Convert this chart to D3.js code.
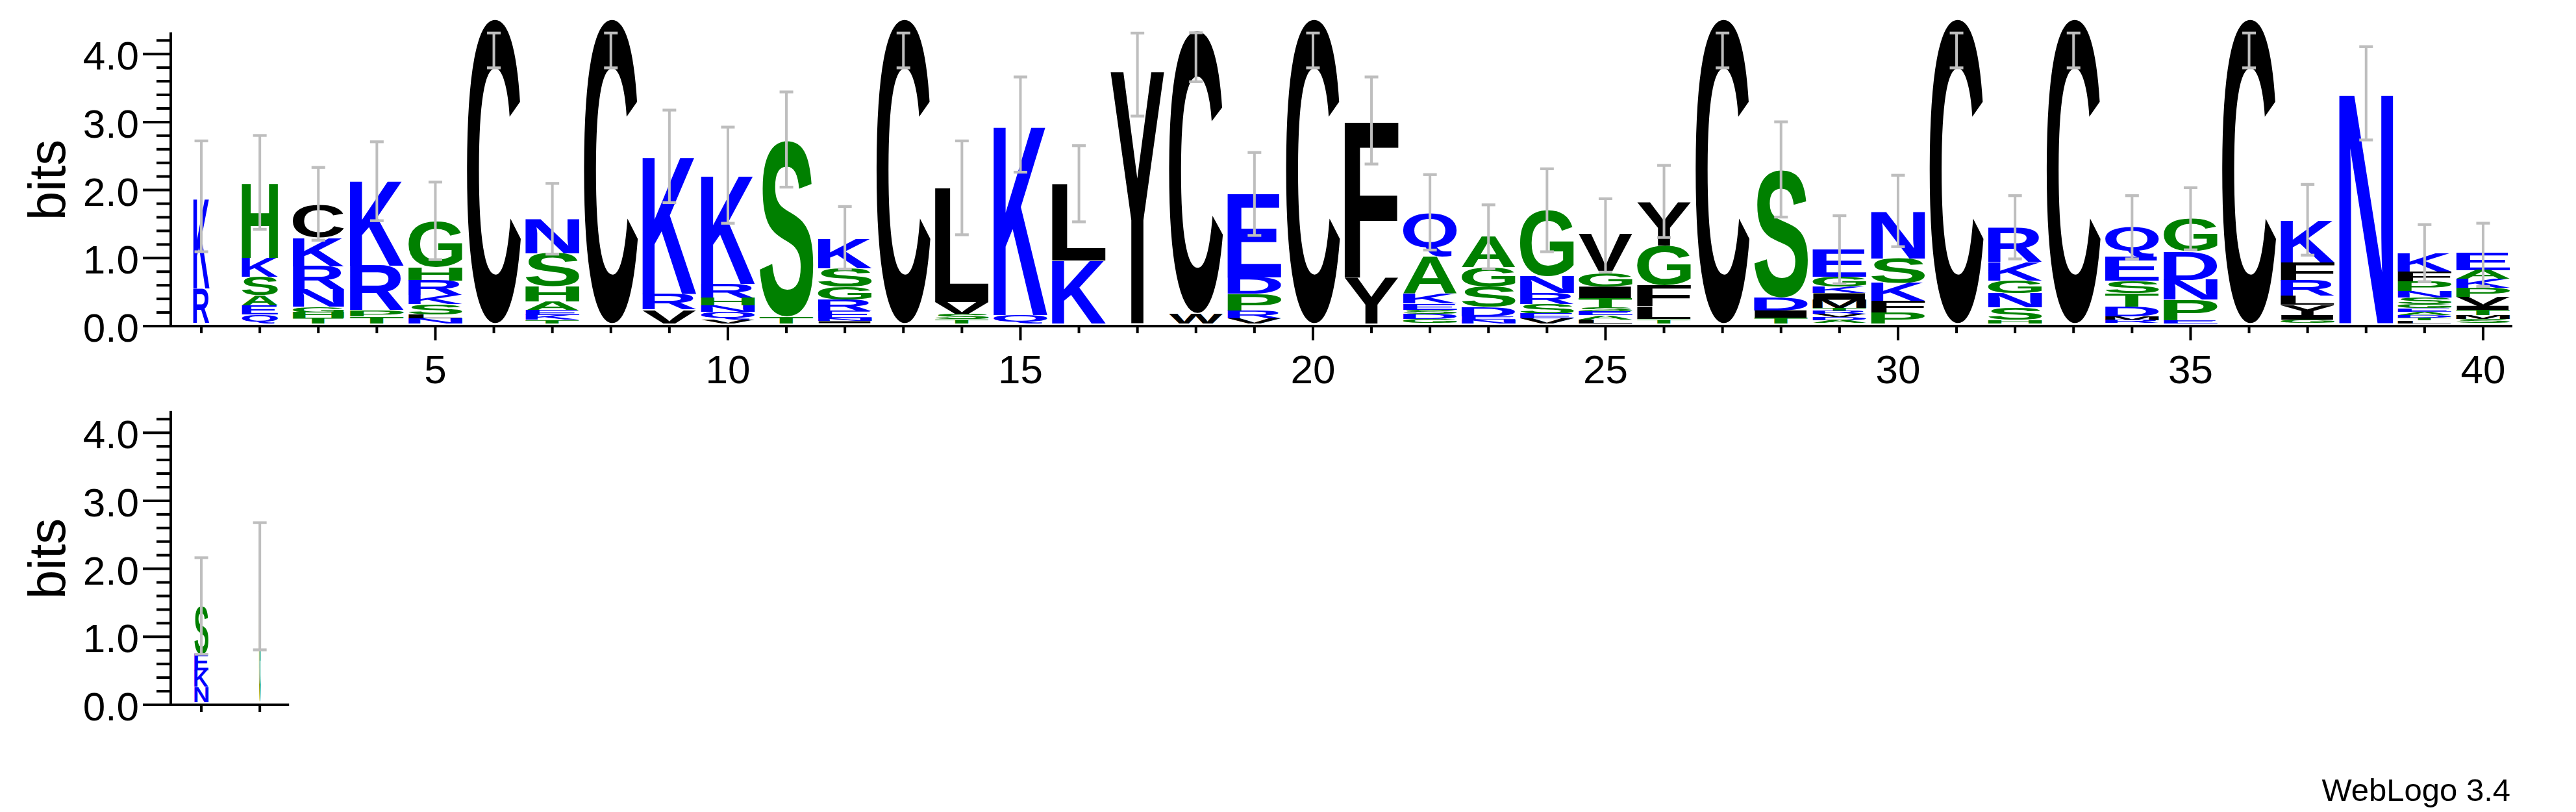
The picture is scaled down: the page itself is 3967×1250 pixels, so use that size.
<!DOCTYPE html>
<html><head><meta charset="utf-8">
<script src="https://cdn.jsdelivr.net/npm/d3@7"></script>
<style>html,body{margin:0;padding:0;background:#fff;} svg{display:block;}</style>
</head><body>
<svg id="chart" width="3967" height="1250"></svg>
<script>
// ---------------- DATA ----------------
const positions = d3.range(1, 43);            // 1..42 (row 1: 1-40, row 2: 41-42)
const rowSplit = 40;
const yTickValues = [0, 1, 2, 3, 4];
const yTickLabels = ["0.0", "1.0", "2.0", "3.0", "4.0"];
const xTickLabels = ["5", "10", "15", "20", "25", "30", "35", "40"];
const yLabel = "bits";
const footer = "WebLogo 3.4";

// letter stacks, listed top to bottom: [residue, bits]
const stacks = [
  [["K",1.32],["R",0.51]],
  [["H",1.10],["K",0.28],["S",0.27],["A",0.15],["E",0.13],["Q",0.13]],
  [["C",0.48],["K",0.42],["R",0.34],["N",0.26],["G",0.08],["H",0.08],["T",0.08]],
  [["K",1.24],["R",0.66],["P",0.09],["T",0.10]],
  [["G",0.67],["H",0.20],["R",0.22],["K",0.13],["S",0.15],["L",0.06],["N",0.07]],
  [["C",4.47]],
  [["N",0.50],["S",0.49],["H",0.22],["A",0.13],["E",0.07],["K",0.07],["T",0.05]],
  [["C",4.47]],
  [["K",2.02],["R",0.23],["V",0.20]],
  [["K",1.59],["R",0.21],["H",0.105],["N",0.10],["Q",0.105],["V",0.06]],
  [["S",2.58],["T",0.10]],
  [["K",0.43],["S",0.27],["G",0.19],["R",0.175],["E",0.105],["N",0.04],["I",0.03]],
  [["C",4.47]],
  [["L",1.68],["V",0.18],["S",0.07],["T",0.06]],
  [["K",2.78],["Q",0.12]],
  [["L",1.13],["K",0.92]],
  [["Y",3.70]],
  [["C",4.15],["W",0.15]],
  [["E",1.22],["D",0.24],["P",0.25],["R",0.11],["V",0.07]],
  [["C",4.47]],
  [["F",2.30],["Y",0.67]],
  [["Q",0.64],["A",0.54],["K",0.15],["E",0.09],["S",0.065],["D",0.07],["G",0.065]],
  [["A",0.46],["G",0.29],["S",0.30],["D",0.13],["E",0.05],["N",0.055]],
  [["G",0.97],["N",0.245],["R",0.16],["S",0.145],["E",0.07],["V",0.07]],
  [["V",0.58],["G",0.20],["I",0.175],["T",0.13],["S",0.06],["E",0.06],["A",0.06],["L",0.055]],
  [["Y",0.64],["G",0.58],["F",0.31],["L",0.185],["T",0.065]],
  [["C",4.47]],
  [["S",1.87],["D",0.19],["I",0.11],["T",0.08]],
  [["E",0.40],["G",0.15],["K",0.095],["I",0.095],["M",0.12],["T",0.045],["R",0.045],["V",0.045],["D",0.045],["A",0.045]],
  [["N",0.69],["S",0.36],["K",0.265],["F",0.17],["P",0.16]],
  [["C",4.47]],
  [["R",0.51],["K",0.265],["G",0.19],["N",0.21],["S",0.18],["H",0.05]],
  [["C",4.47]],
  [["Q",0.44],["E",0.35],["S",0.18],["T",0.20],["D",0.14],["M",0.057],["R",0.045]],
  [["G",0.48],["D",0.42],["N",0.29],["P",0.30],["E",0.045]],
  [["C",4.47]],
  [["K",0.61],["F",0.265],["R",0.23],["L",0.13],["Y",0.15],["I",0.07],["G",0.05]],
  [["N",3.375]],
  [["K",0.27],["F",0.145],["P",0.145],["N",0.096],["S",0.096],["G",0.06],["E",0.05],["A",0.05],["D",0.04],["T",0.04],["L",0.04]],
  [["E",0.25],["A",0.13],["K",0.13],["P",0.13],["V",0.135],["I",0.065],["T",0.07],["M",0.06],["S",0.06]],
  [["S",0.70],["E",0.24],["K",0.24],["N",0.22]],
  [["S",0.08],["G",1.61]]
];
// relative stack widths (fraction of sequences present)
const widthFrac = [0.30,0.67,0.95,1,1,1,1,1,1,1, 1,1,1,1,1,1,1,1,1,1,
                   1,1,1,1,1,1,1,1,1,1, 1,1,1,1,1,1,1,1,1,1, 0.26,0.025];
// error bars: centre and half-length, in bits
const errMid = [1.865,2.07,1.755,2.087,1.505,4.01,1.535,4.01,2.453,2.176,
                2.70,1.255,4.01,1.99,2.92,2.05,3.655,3.91,1.90,4.01,
                2.98,1.63,1.27,1.66,1.29,1.79,4.01,2.26,1.08,1.65,
                4.01,1.41,4.01,1.41,1.535,4.01,1.52,3.38,1.03,1.005,
                1.41,1.70];
const errHalf = [0.815,0.69,0.535,0.58,0.57,0.256,0.52,0.256,0.68,0.707,
                 0.70,0.46,0.256,0.69,0.70,0.56,0.61,0.36,0.61,0.256,
                 0.64,0.555,0.47,0.61,0.54,0.53,0.256,0.70,0.50,0.525,
                 0.256,0.465,0.256,0.465,0.457,0.256,0.52,0.686,0.42,0.465,
                 0.71,0.935];
const colorGroups = [["RKDENQ","#0000ff"],["SGHTAP","#008000"],["YVMCLFIW","#000000"]];

// ---------------- DRAW ----------------
const svg = d3.select("#chart");
const FONT = "'Liberation Sans', Arial, Helvetica, sans-serif";
const colorOf = ch => { for (const [s,c] of colorGroups) if (s.includes(ch)) return c; return "#000"; };

const ctx = document.createElement("canvas").getContext("2d");
ctx.font = "bold 200px " + FONT;
const metricCache = {};
function metric(ch){
  if (!metricCache[ch]) {
    const t = ctx.measureText(ch);
    metricCache[ch] = {l:t.actualBoundingBoxLeft, r:t.actualBoundingBoxRight, a:t.actualBoundingBoxAscent, d:t.actualBoundingBoxDescent};
  }
  return metricCache[ch];
}

const rows = [
  {pos: positions.filter(p => p <= rowSplit), x0: 265, baseY: 502},
  {pos: positions.filter(p => p > rowSplit),  x0: 265, baseY: 1085}
];
const band = 90.1, pxPerBit = 104.7, letterOffset = 4.5, letterFill = 0.92;

rows.forEach((row, ri) => {
  const first = row.pos[0], last = row.pos[row.pos.length-1];
  const x = d3.scaleLinear().domain([first-0.5, last+0.5]).range([row.x0, row.x0 + band*row.pos.length]);
  const y = d3.scaleLinear().domain([0, 4.32]).range([row.baseY, row.baseY - 4.32*pxPerBit]);
  const g = svg.append("g");

  // y axis
  g.append("line").attr("x1",263).attr("x2",263).attr("y1",y(4.32)).attr("y2",y(0)+2)
    .attr("stroke","#000").attr("stroke-width",4);
  d3.range(0, 4.21, 0.2).forEach(v => {
    const major = Math.abs(v - Math.round(v)) < 1e-6;
    g.append("line").attr("x1", major ? 220 : 241).attr("x2",263)
      .attr("y1",y(v)).attr("y2",y(v)).attr("stroke","#000").attr("stroke-width",4);
  });
  yTickValues.forEach((v,i) => {
    g.append("text").attr("x",214).attr("y",y(v)+24).attr("text-anchor","end")
      .attr("font-family",FONT).attr("font-size",62).attr("fill","#000").text(yTickLabels[i]);
  });
  g.append("text").attr("transform",`translate(100,${y(2.15)}) rotate(-90)`)
    .attr("text-anchor","middle").attr("font-family",FONT).attr("font-size",80).text(yLabel);

  // x axis
  g.append("line").attr("x1",x(first-0.5)).attr("x2",x(last+0.5)).attr("y1",y(0)).attr("y2",y(0))
    .attr("stroke","#000").attr("stroke-width",4);
  row.pos.forEach(p => {
    const major = p % 5 === 0;
    g.append("line").attr("x1",x(p)).attr("x2",x(p)).attr("y1",y(0)).attr("y2",y(0)+(major?22:11))
      .attr("stroke","#000").attr("stroke-width",4);
    if (major) {
      g.append("text").attr("x",x(p)).attr("y",y(0)+88).attr("text-anchor","middle")
        .attr("font-family",FONT).attr("font-size",62).text(xTickLabels[p/5-1]);
    }
  });

  // stacks
  row.pos.forEach(p => {
    const stack = stacks[p-1];
    const w = band*letterFill*widthFrac[p-1];
    const left = x(p) - w/2;
    let cum = d3.sum(stack, d => d[1]);
    stack.forEach(([ch, bits]) => {
      const yTop = y(cum) - letterOffset;
      const h = y(cum - bits) - y(cum);
      cum -= bits;
      if (h <= 0) return;
      const mt = metric(ch);
      const sx = w/(mt.l+mt.r), sy = h/(mt.a+mt.d);
      g.append("text")
        .attr("transform",`translate(${left},${yTop}) scale(${sx},${sy}) translate(${mt.l},${mt.a})`)
        .attr("font-family",FONT).attr("font-weight","bold").attr("font-size",200)
        .attr("fill",colorOf(ch)).text(ch);
    });
  });

  // error bars
  row.pos.forEach(p => {
    const cx = x(p);
    const yt = y(errMid[p-1]+errHalf[p-1]) - letterOffset;
    const yb = y(errMid[p-1]-errHalf[p-1]) - letterOffset;
    const eg = g.append("g").attr("stroke","#bebebe");
    eg.append("line").attr("x1",cx).attr("x2",cx).attr("y1",yt).attr("y2",yb).attr("stroke-width",4);
    eg.append("line").attr("x1",cx-10.5).attr("x2",cx+10.5).attr("y1",yt).attr("y2",yt).attr("stroke-width",4.3);
    eg.append("line").attr("x1",cx-10.5).attr("x2",cx+10.5).attr("y1",yb).attr("y2",yb).attr("stroke-width",4.3);
  });
});

svg.append("text").attr("x",3866).attr("y",1233).attr("text-anchor","end")
  .attr("font-family",FONT).attr("font-size",49).text(footer);
</script>
</body></html>
